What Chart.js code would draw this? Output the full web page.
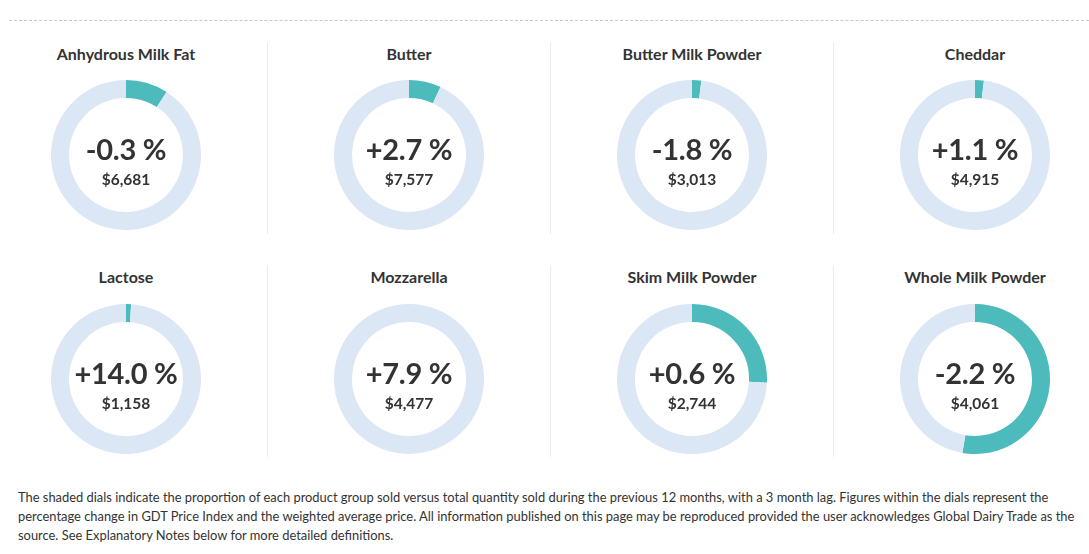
<!DOCTYPE html>
<html>
<head>
<meta charset="utf-8">
<script src="https://cdn.jsdelivr.net/npm/chart.js@4/dist/chart.umd.min.js"></script>
<style>
  body { margin: 0; background: #fff; font-family: Lato, "Open Sans", sans-serif; color: #333; }
  #page { position: relative; width: 1089px; height: 554px; overflow: hidden; }
  .dash { position: absolute; left: 9px; right: 0; top: 20px; border-top: 1px dashed #c8c8c8; }
  .sep { position: absolute; width: 1px; background: #ececec; }
  .title { position: absolute; width: 283px; text-align: center; font-weight: bold; font-size: 16px; }
  .dial { position: absolute; width: 150px; height: 150px; }
  .pct { position: absolute; left: 0; width: 150px; top: 54px; text-align: center; font-size: 29px; font-weight: bold; letter-spacing: -0.3px; line-height: 1; }
  .price { position: absolute; left: 0; width: 150px; top: 92px; text-align: center; font-size: 15.5px; font-weight: bold; line-height: 1; }
  .note { position: absolute; left: 18px; top: 488px; width: 1062px; font-size: 12.9px; line-height: 19px; }
</style>
</head>
<body>
<div id="page">
  <div class="dash"></div>
  <div class="note">The shaded dials indicate the proportion of each product group sold versus total quantity sold during the previous 12 months, with a 3 month lag. Figures within the dials represent the percentage change in GDT Price Index and the weighted average price. All information published on this page may be reproduced provided the user acknowledges Global Dairy Trade as the source. See Explanatory Notes below for more detailed definitions.</div>
</div>
<script>
const products = ['Anhydrous Milk Fat', 'Butter', 'Butter Milk Powder', 'Cheddar',
                  'Lactose', 'Mozzarella', 'Skim Milk Powder', 'Whole Milk Powder'];
const changes = ['-0.3 %', '+2.7 %', '-1.8 %', '+1.1 %', '+14.0 %', '+7.9 %', '+0.6 %', '-2.2 %'];
const prices = ['$6,681', '$7,577', '$3,013', '$4,915', '$1,158', '$4,477', '$2,744', '$4,061'];
// share of total quantity sold, percent
const shares = [9.1, 6.9, 2.0, 1.9, 1.1, 0, 25.8, 52.7];

const page = document.getElementById('page');

// vertical separators between columns
[267, 550, 833].forEach((x) => {
  [[42, 192], [265, 192]].forEach(([top, h]) => {
    const s = document.createElement('div');
    s.className = 'sep';
    s.style.left = x + 'px';
    s.style.top = top + 'px';
    s.style.height = h + 'px';
    page.appendChild(s);
  });
});

products.forEach((name, i) => {
  const col = i % 4;
  const row = Math.floor(i / 4);
  const cx = 126 + 283 * col;
  const cy = 155 + 224 * row;

  const t = document.createElement('div');
  t.className = 'title';
  t.textContent = name;
  t.style.left = (cx - 141.5) + 'px';
  t.style.top = (44 + 223 * row) + 'px';
  page.appendChild(t);

  const box = document.createElement('div');
  box.className = 'dial';
  box.style.left = (cx - 75) + 'px';
  box.style.top = (cy - 75) + 'px';
  const canvas = document.createElement('canvas');
  canvas.width = 150;
  canvas.height = 150;
  box.appendChild(canvas);

  const pct = document.createElement('div');
  pct.className = 'pct';
  pct.textContent = changes[i];
  box.appendChild(pct);
  const pr = document.createElement('div');
  pr.className = 'price';
  pr.textContent = prices[i];
  box.appendChild(pr);
  page.appendChild(box);

  new Chart(canvas.getContext('2d'), {
    type: 'doughnut',
    data: {
      labels: ['Share', 'Rest'],
      datasets: [{
        data: [shares[i], 100 - shares[i]],
        backgroundColor: ['#4dbbbb', '#dce7f5'],
        borderWidth: 0,
      }],
    },
    options: {
      responsive: false,
      animation: false,
      cutout: '76%',
      layout: { padding: 0 },
      plugins: { legend: { display: false }, tooltip: { enabled: false } },
    },
  });
});
</script>
</body>
</html>
